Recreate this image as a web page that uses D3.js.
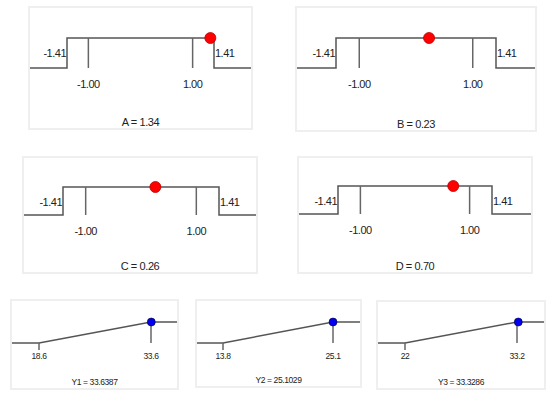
<!DOCTYPE html>
<html>
<head>
<meta charset="utf-8">
<script src="https://cdn.jsdelivr.net/npm/d3@7"></script>
<style>
  body { margin: 0; background: #fff; }
  text { font-family: "Liberation Sans", Arial, sans-serif; fill: #222; }
</style>
</head>
<body>
<div id="chart"></div>
<script>
// coded factors
var factorNames = ["A", "B", "C", "D"];
var factorValues = [1.34, 0.23, 0.26, 0.70];
var axial = 1.41;
var tickValues = [-1.41, -1.00, 1.00, 1.41];

// responses
var respNames = ["Y1", "Y2", "Y3"];
var respLow = [18.6, 13.8, 22];
var respHigh = [33.6, 25.1, 33.2];
var respValues = [33.6387, 25.1029, 33.3286];
var respLowLabels = ["18.6", "13.8", "22"];
var respHighLabels = ["33.6", "25.1", "33.2"];

var width = 550, height = 396;

var svg = d3.select("#chart").append("svg")
    .attr("width", width)
    .attr("height", height);

// panel boxes and plot area
var topPanels = [
  { x0: 29, x1: 252, y0: 7, y1: 129, lo: 67, hi: 214, top: 38, base: 68 },
  { x0: 296, x1: 536, y0: 7, y1: 131, lo: 336, hi: 496, top: 38, base: 68 },
  { x0: 23, x1: 257, y0: 157, y1: 273, lo: 63, hi: 219, top: 187, base: 215 },
  { x0: 298, x1: 532, y0: 157, y1: 273, lo: 338, hi: 492, top: 186, base: 214 }
];

var botPanels = [
  { x0: 11, x1: 178, y0: 300, y1: 389, lo: 39, hi: 151, top: 322, base: 343 },
  { x0: 196, x1: 361, y0: 300, y1: 387, lo: 223, hi: 333, top: 322, base: 343 },
  { x0: 377, x1: 545, y0: 301, y1: 389, lo: 405, hi: 517, top: 322, base: 343 }
];

var lineColor = "#555";

function box(g, p) {
  g.append("rect")
    .attr("x", p.x0).attr("y", p.y0)
    .attr("width", p.x1 - p.x0).attr("height", p.y1 - p.y0)
    .attr("fill", "#fff")
    .attr("stroke", "#efefef")
    .attr("stroke-width", 2);
}

topPanels.forEach(function(p, i) {
  var g = svg.append("g");
  box(g, p);

  var x = d3.scaleLinear().domain([-axial, axial]).range([p.lo, p.hi]);
  var y = d3.scaleLinear().domain([0, 1]).range([p.base, p.top]);

  var pts = [[x.invert(p.x0 + 1), 0], [-axial, 0], [-axial, 1], [axial, 1], [axial, 0], [x.invert(p.x1 - 1), 0]];
  g.append("path")
    .attr("d", d3.line().x(d => x(d[0])).y(d => y(d[1]))(pts))
    .attr("fill", "none")
    .attr("stroke", lineColor)
    .attr("stroke-width", 1.5);

  // inner ticks at -1 and 1
  g.selectAll("line.tick")
    .data(tickValues.filter(d => Math.abs(d) === 1))
    .enter().append("line")
    .attr("x1", d => x(d)).attr("x2", d => x(d))
    .attr("y1", y(1)).attr("y2", y(0))
    .attr("stroke", "#666")
    .attr("stroke-width", 1.5);

  g.selectAll("text.tl")
    .data(tickValues)
    .enter().append("text")
    .attr("x", d => Math.abs(d) === 1 ? x(d) : (d < 0 ? x(d) - 1 : x(d) + 1))
    .attr("y", d => Math.abs(d) === 1 ? y(0) + 20 : y(1) + 19)
    .attr("text-anchor", d => Math.abs(d) === 1 ? "middle" : (d < 0 ? "end" : "start"))
    .style("font-size", "11px")
    .style("letter-spacing", "-0.5px")
    .text(d => d.toFixed(2));

  g.append("text")
    .attr("x", (p.x0 + p.x1) / 2)
    .attr("y", p.y1 - 3)
    .attr("text-anchor", "middle")
    .style("font-size", "11px")
    .style("letter-spacing", "-0.4px")
    .text(factorNames[i] + " = " + factorValues[i].toFixed(2));

  g.append("circle")
    .attr("cx", x(factorValues[i]))
    .attr("cy", y(1))
    .attr("r", 5.5)
    .attr("fill", "#f00")
    .attr("stroke", "#b00")
    .attr("stroke-width", 0.8);
});

botPanels.forEach(function(p, i) {
  var g = svg.append("g");
  box(g, p);

  var x = d3.scaleLinear().domain([respLow[i], respHigh[i]]).range([p.lo, p.hi]);
  var y = d3.scaleLinear().domain([respLow[i], respHigh[i]]).range([p.base, p.top]);

  var pts = [[x.invert(p.x0 + 1), respLow[i]], [respLow[i], respLow[i]], [respHigh[i], respHigh[i]], [x.invert(p.x1 - 1), respHigh[i]]];
  g.append("path")
    .attr("d", d3.line().x(d => x(d[0])).y(d => y(d[1]))(pts))
    .attr("fill", "none")
    .attr("stroke", lineColor)
    .attr("stroke-width", 1.5);

  g.append("line")
    .attr("x1", x(respLow[i])).attr("x2", x(respLow[i]))
    .attr("y1", y(respLow[i])).attr("y2", y(respLow[i]) + 7)
    .attr("stroke", "#666").attr("stroke-width", 1.5);
  g.append("line")
    .attr("x1", x(respHigh[i])).attr("x2", x(respHigh[i]))
    .attr("y1", y(respHigh[i])).attr("y2", y(respLow[i]))
    .attr("stroke", "#666").attr("stroke-width", 1.5);

  g.selectAll("text.tl")
    .data([[respLow[i], respLowLabels[i]], [respHigh[i], respHighLabels[i]]])
    .enter().append("text")
    .attr("x", d => x(d[0]))
    .attr("y", y(respLow[i]) + 16)
    .attr("text-anchor", "middle")
    .style("font-size", "8.5px")
    .style("letter-spacing", "-0.4px")
    .text(d => d[1]);

  g.append("text")
    .attr("x", (p.x0 + p.x1) / 2)
    .attr("y", p.y1 - 4.5)
    .attr("text-anchor", "middle")
    .style("font-size", "8.5px")
    .style("letter-spacing", "-0.4px")
    .text(respNames[i] + " = " + respValues[i].toFixed(4));

  g.append("circle")
    .attr("cx", x(respValues[i]))
    .attr("cy", y(respHigh[i]))
    .attr("r", 4)
    .attr("fill", "#00e")
    .attr("stroke", "#003")
    .attr("stroke-width", 0.6);
});
</script>
</body>
</html>
